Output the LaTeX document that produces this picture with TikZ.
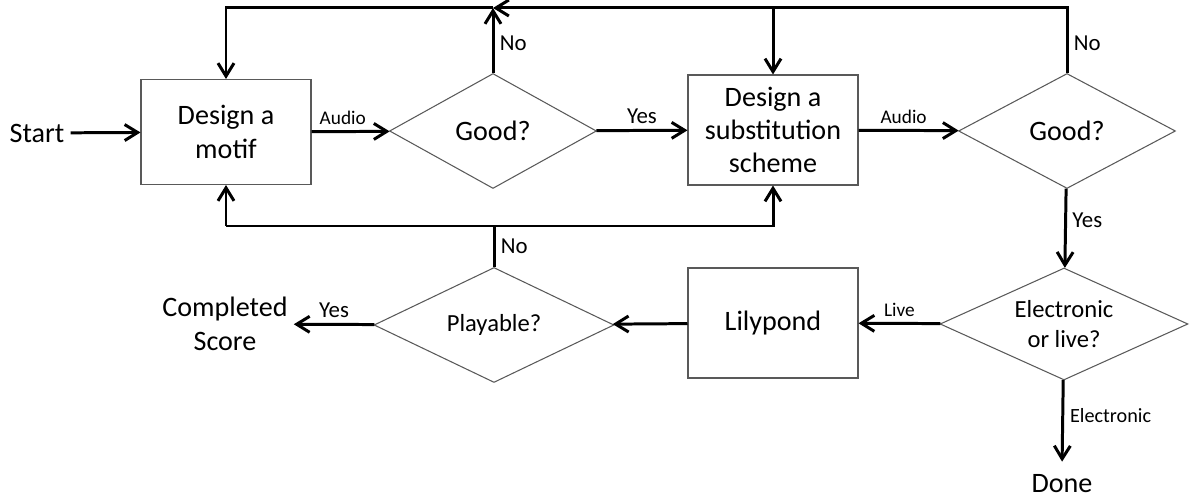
\documentclass[tikz,border=0pt]{standalone}
\usepackage{fontspec}
\setmainfont{Carlito}
\usetikzlibrary{shapes.geometric,arrows.meta}

\begin{document}
\begin{tikzpicture}
			[
				x = 0.02cm, y = -0.02cm,
				box/.style = {draw = black!65, line width = 0.6pt, align = center, font = \fontsize{16}{19}\selectfont},
				decide/.style = {diamond, shape aspect = 2.2, draw = black!65, line width = 0.6pt, inner sep = 0pt, align = center},
				flow/.style = {line width = 1.7pt, -{Straight Barb[length = 2.6mm, width = 3.2mm]}},
				wire/.style = {line width = 1.7pt},
				lbl/.style = {font = \fontsize{13}{15}\selectfont, inner sep = 3pt},
				small/.style = {font = \fontsize{11}{13}\selectfont, inner sep = 3pt}
			]
			\useasboundingbox (0,0) rectangle (1193,502);

			% top row
			\node (start) at (37,133) {\fontsize{16}{19}\selectfont Start};
			\node[box, minimum width = 3.4cm, minimum height = 2.1cm] (motif) at (226,132) {Design a\\motif};
			\node[decide, minimum width = 4.14cm, minimum height = 2.3cm, font = \fontsize{16}{19}\selectfont] (good1) at (493,131) {Good?};
			\node[box, minimum width = 3.4cm, minimum height = 2.2cm] (subst) at (773,130) {Design a\\substitution\\scheme};
			\node[decide, minimum width = 4.34cm, minimum height = 2.3cm, font = \fontsize{16}{19}\selectfont] (good2) at (1067,131) {Good?};

			% bottom row
			\node[decide, minimum width = 4.96cm, minimum height = 2.24cm, font = \fontsize{14}{17}\selectfont] (choice) at (1064,324) {Electronic\\or live?};
			\node[box, minimum width = 3.4cm, minimum height = 2.2cm] (lily) at (773,323) {Lilypond};
			\node[decide, minimum width = 4.8cm, minimum height = 2.3cm, font = \fontsize{14}{17}\selectfont] (play) at (494,325) {Playable?};
			\node[align = center, font = \fontsize{16}{19}\selectfont] (score) at (225,324) {Completed\\Score};
			\node (done) at (1062,484) {\fontsize{16}{19}\selectfont Done};

			\coordinate (top) at (0,8);
			\coordinate (bot) at (0,226);

			% forward arrows
			\draw[flow] (start) -- (motif);
			\draw[flow] (motif) -- node[above, small, pos = 0.4] {Audio} (good1);
			\draw[flow] (good1) -- node[above, lbl] {Yes} (subst);
			\draw[flow] (subst) -- node[above, small, pos = 0.45] {Audio} (good2);
			\draw[flow] (good2) -- node[right, lbl, pos = 0.4] {Yes} (choice);
			\draw[flow] (choice) -- node[above, small] {Live} (lily);
			\draw[flow, shorten > = 4pt] (choice) -- node[right, font = \fontsize{11.5}{13}\selectfont, pos = 0.4] {Electronic} (done.north);
			\draw[flow] (lily) -- (play);
			\draw[flow] (play) -- node[above, lbl] {Yes} (score);

			% loops back along the top
			\draw[flow] (good1.north) -- node[right, lbl, pos = 0.45] {No} (good1.north |- top);
			\draw[flow] (good2.north) -- node[right, lbl, pos = 0.45] {No} (good2.north |- top) -- (good1.north |- top);
			\draw[flow] (good1.north |- top) -- (motif.north |- top) -- (motif.north);
			\draw[flow] (subst.north |- top) -- (subst.north);

			% loops back along the bottom
			\draw[wire] (play.north) -- node[right, lbl] {No} (play.north |- bot);
			\draw[flow] (motif.south |- bot) -- (motif.south);
			\draw[flow] (motif.south |- bot) -- (subst.south |- bot) -- (subst.south);
\end{tikzpicture}
\end{document}
